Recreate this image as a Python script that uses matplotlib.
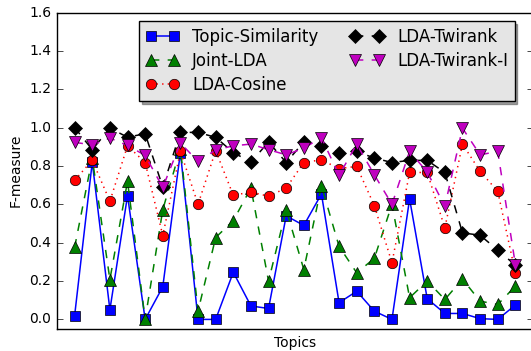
import numpy as np
import matplotlib
matplotlib.use("Agg")
import matplotlib.pyplot as plt

plt.style.use("classic")

topics = np.arange(26)

topic_similarity = [0.02, 0.82, 0.05, 0.645, 0.0, 0.17, 0.87, 0.0, 0.0, 0.246,
                    0.07, 0.057, 0.54, 0.49, 0.654, 0.087, 0.147, 0.043, 0.0, 0.628,
                    0.108, 0.031, 0.031, 0.004, 0.0, 0.075]
joint_lda = [0.376, 0.84, 0.208, 0.72, 0.0, 0.572, 0.89, 0.043, 0.427, 0.515,
             0.685, 0.2, 0.572, 0.26, 0.697, 0.381, 0.243, 0.318, 0.60, 0.113,
             0.2, 0.104, 0.21, 0.095, 0.078, 0.173]
lda_cosine = [0.725, 0.83, 0.616, 0.905, 0.818, 0.437, 0.876, 0.60, 0.88, 0.647,
              0.664, 0.642, 0.685, 0.818, 0.832, 0.786, 0.798, 0.593, 0.295, 0.766,
              0.766, 0.477, 0.914, 0.772, 0.668, 0.243]
lda_twirank = [1.0, 0.885, 0.997, 0.95, 0.968, 0.69, 0.975, 0.975, 0.949, 0.87,
               0.82, 0.925, 0.818, 0.925, 0.902, 0.87, 0.876, 0.841, 0.818, 0.829,
               0.829, 0.766, 0.451, 0.439, 0.361, 0.283]
lda_twirank_i = [0.923, 0.91, 0.945, 0.907, 0.855, 0.688, 0.919, 0.824, 0.883, 0.905,
                 0.914, 0.885, 0.858, 0.893, 0.948, 0.751, 0.914, 0.754, 0.60, 0.876,
                 0.768, 0.59, 0.997, 0.858, 0.876, 0.286]

fig = plt.figure(figsize=(5.31, 3.51), dpi=100, facecolor="white")
ax = fig.add_axes([57 / 531, 22 / 351, 476 / 531, 316.5 / 351])

ms = 7.5
ax.plot(topics, topic_similarity, "s-", color="blue", mec="black", ms=ms, lw=1.1, label="Topic-Similarity")
ax.plot(topics, joint_lda, "^--", color="green", mec="black", ms=ms + 0.5, lw=1.1, label="Joint-LDA")
ax.plot(topics, lda_cosine, "o:", color="red", mec="black", ms=ms, lw=1.1, label="LDA-Cosine")
ax.plot(topics, lda_twirank, "D--", color="black", mec="black", ms=ms, lw=1.1, label="LDA-Twirank")
ax.plot(topics, lda_twirank_i, "v--", color="m", mec="black", ms=ms + 0.5, lw=1.1, label="LDA-Twirank-I")

ax.set_xlim(-1, 26)
ax.set_ylim(-0.05, 1.6)
ax.set_xticks([])
ax.set_yticks(np.arange(0, 1.61, 0.2))
ax.tick_params(axis="y", labelsize=10)
ax.set_xlabel("Topics", fontsize=10)
ax.set_ylabel("F-measure", fontsize=10)

leg = ax.legend(loc="upper left", ncol=2, numpoints=2, shadow=True, fancybox=False,
                fontsize=12, bbox_to_anchor=(139 / 531, 1 - 21 / 351),
                bbox_transform=fig.transFigure, borderaxespad=0, columnspacing=1.9,
                handlelength=2, labelspacing=0.38, borderpad=0.4)
leg.get_frame().set_facecolor("#e5e5e5")
leg.get_frame().set_alpha(1)

fig.savefig("out.png", dpi=100, facecolor="white")
